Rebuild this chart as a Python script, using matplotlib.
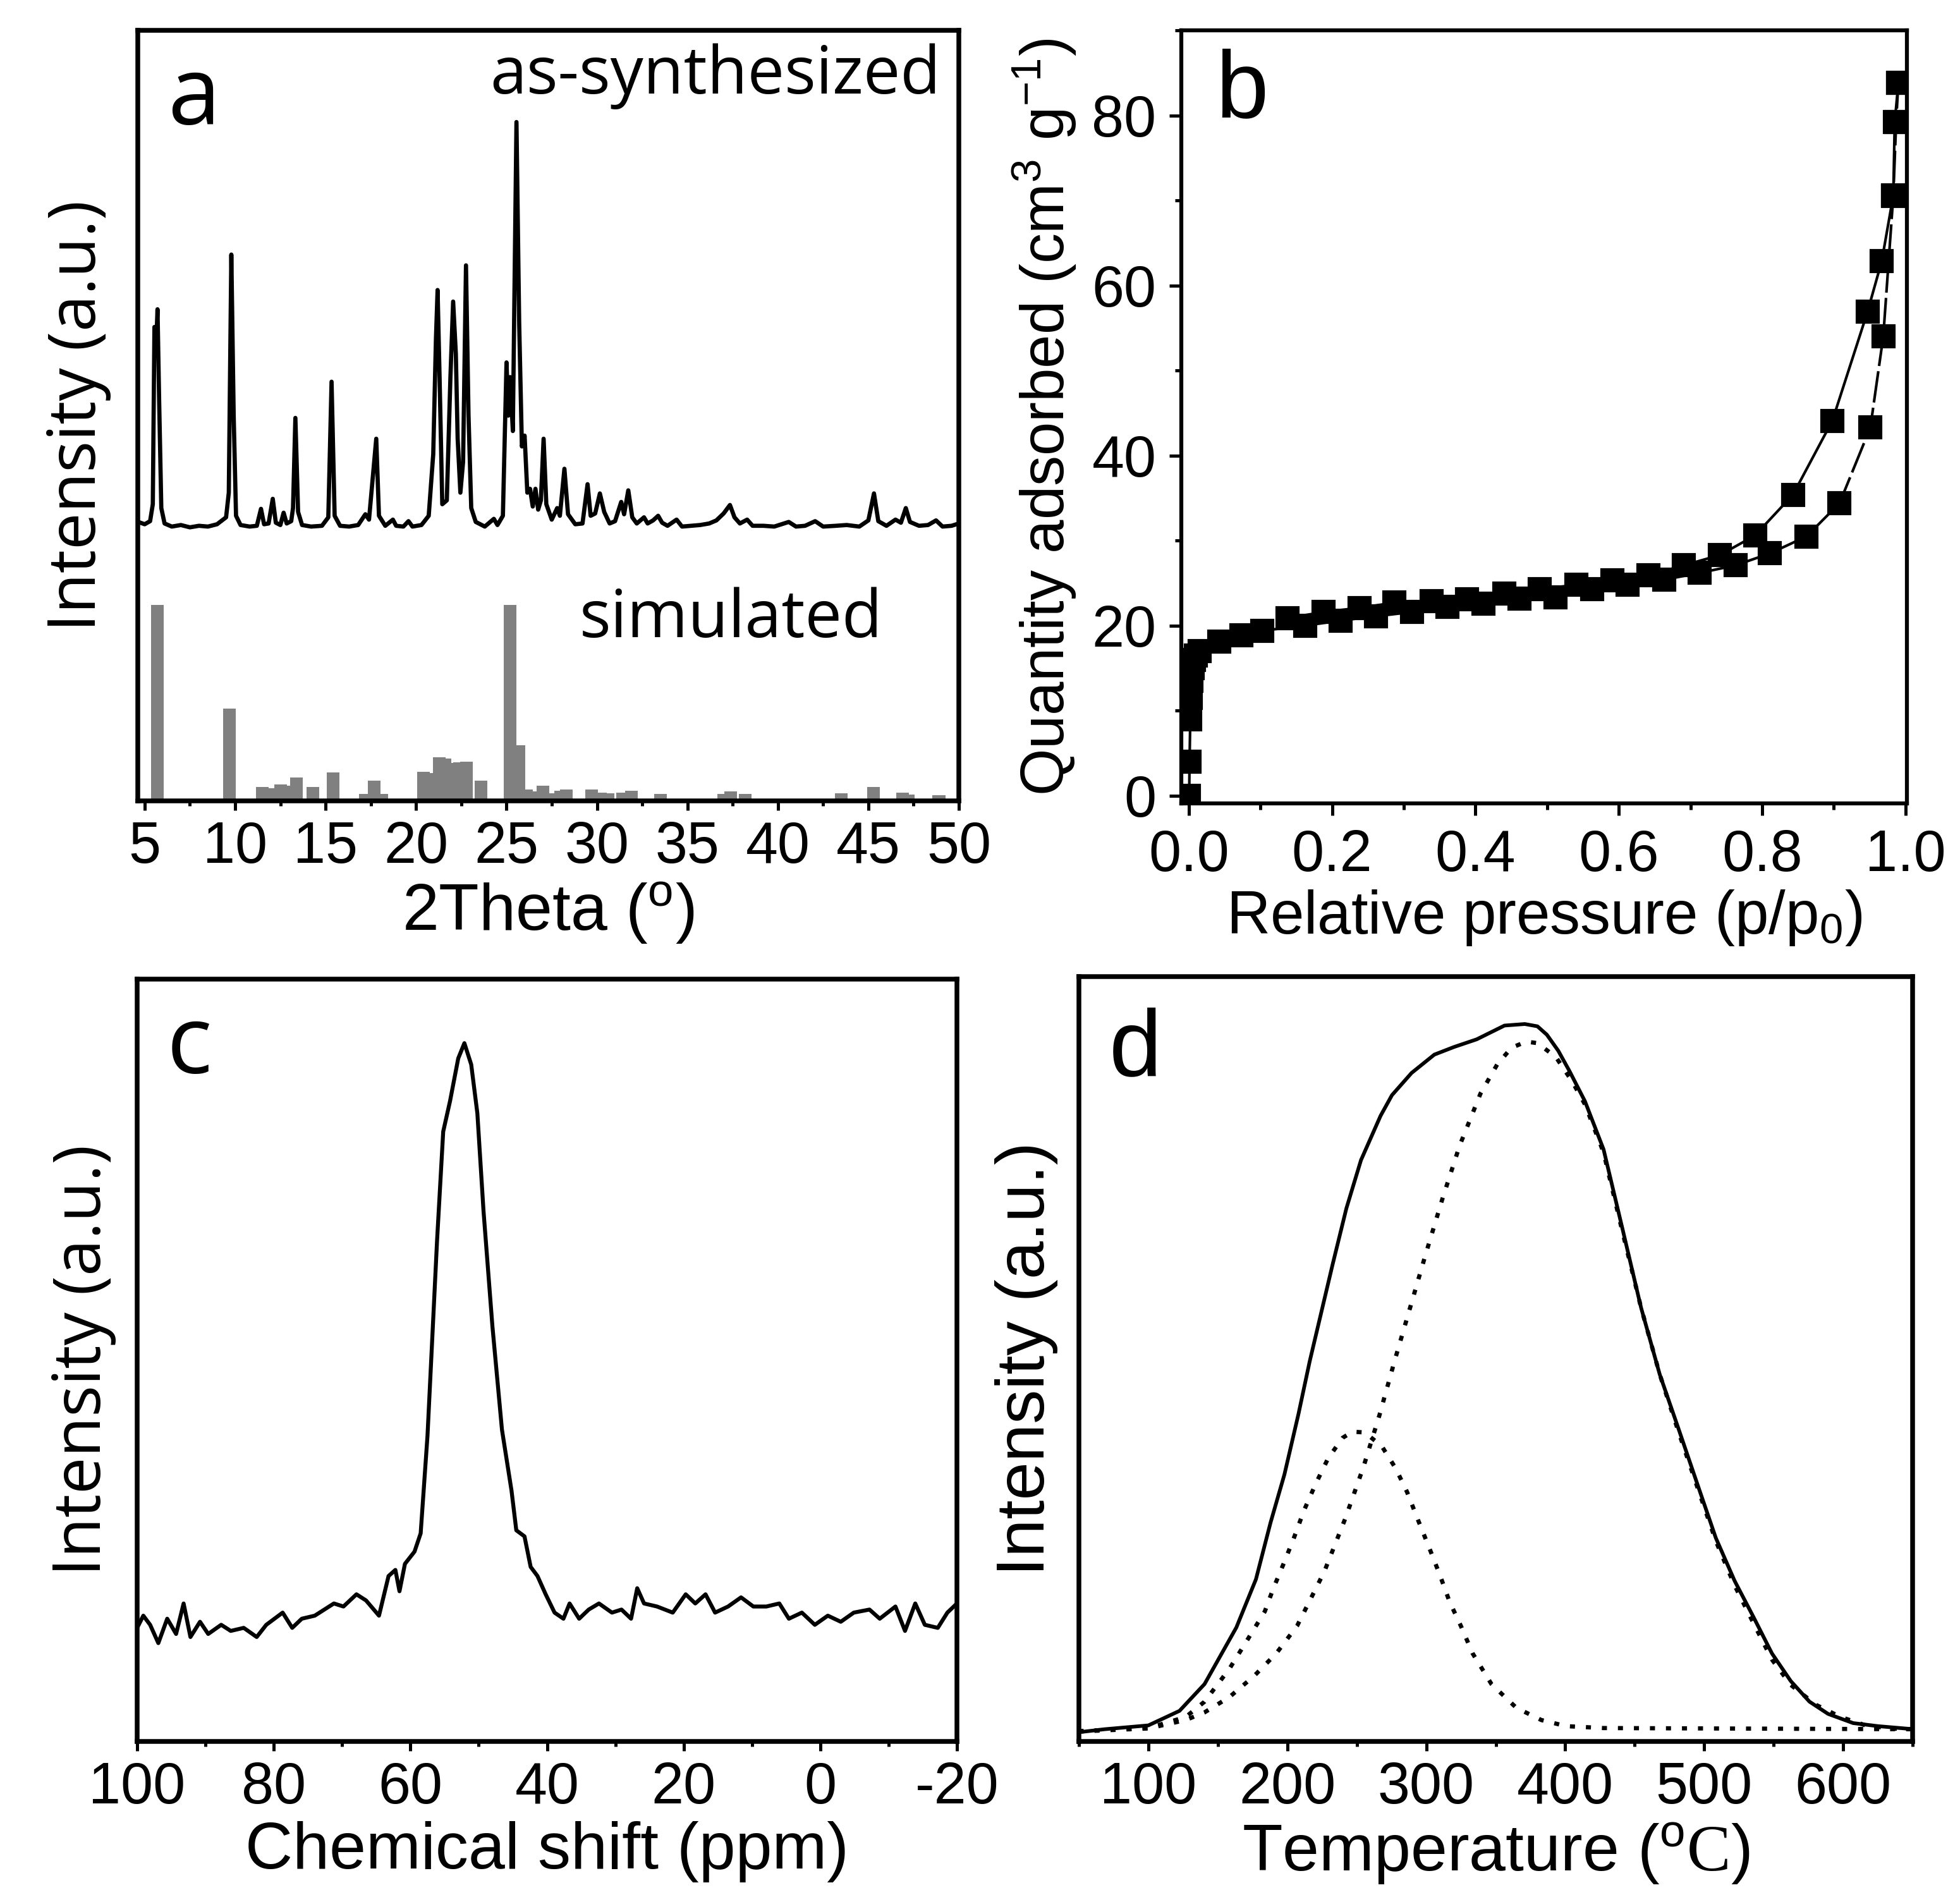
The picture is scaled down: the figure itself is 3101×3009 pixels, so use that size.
import matplotlib
matplotlib.use('Agg')
import matplotlib.pyplot as plt
from matplotlib.ticker import MultipleLocator, FormatStrFormatter

plt.rcParams['font.family'] = 'Liberation Sans'
plt.rcParams['mathtext.fontset'] = 'custom'
plt.rcParams['mathtext.rm'] = 'Liberation Serif'
plt.rcParams['axes.unicode_minus'] = False

# ---- panel a: XRD (as-synthesized trace) ----
xrd_2theta = [4.65, 5.0, 5.3, 5.45, 5.54, 5.62, 5.71, 5.8, 5.92, 6.1, 6.5, 7.0, 7.5, 8.0, 8.5,
              9.0, 9.5, 9.65, 9.79, 9.92, 10.05, 10.3, 10.8, 11.2, 11.43, 11.6, 11.85, 12.08,
              12.25, 12.5, 12.68, 12.85, 13.1, 13.2, 13.33, 13.48, 13.7, 14.2, 14.8, 15.15,
              15.33, 15.5, 15.8, 16.3, 16.8, 17.2, 17.4, 17.8, 17.95, 18.3, 18.72, 18.9, 19.3,
              19.58, 19.8, 20.3, 20.7, 20.95, 21.1, 21.19, 21.3, 21.45, 21.7, 21.9, 22.05,
              22.2, 22.3, 22.45, 22.6, 22.76, 22.9, 23.05, 23.3, 23.8, 24.3, 24.5, 24.8, 25.0,
              25.1, 25.2, 25.35, 25.55, 25.7, 25.85, 26.0, 26.15, 26.3, 26.45, 26.6, 26.75,
              26.9, 27.05, 27.2, 27.5, 27.8, 27.95, 28.2, 28.4, 28.8, 29.2, 29.48, 29.65,
              29.9, 30.16, 30.4, 30.7, 31.0, 31.34, 31.5, 31.73, 31.95, 32.2, 32.6, 32.8,
              33.1, 33.38, 33.6, 33.9, 34.4, 34.7, 35.2, 35.7, 36.2, 36.6, 37.0, 37.35, 37.6,
              37.9, 38.3, 38.6, 39.2, 39.8, 40.6, 41.0, 41.5, 42.06, 42.5, 43.2, 43.8, 44.5,
              45.0, 45.31, 45.55, 46.0, 46.5, 46.8, 47.07, 47.3, 47.8, 48.3, 48.74, 49.1,
              49.6, 50.0]
xrd_int = [36.2, 35.9, 36.3, 38.5, 61.5, 58.0, 63.8, 52.0, 38.0, 36.0, 35.6, 35.8, 35.5, 35.7,
           35.6, 35.9, 36.8, 40.0, 70.9, 50.0, 37.0, 35.8, 35.6, 35.7, 37.9, 35.9, 36.0, 39.2,
           36.1, 35.8, 37.4, 36.0, 36.3, 38.0, 49.7, 37.5, 35.8, 35.6, 35.7, 36.8, 54.4, 37.0,
           35.7, 35.6, 35.8, 37.2, 36.5, 47.0, 37.0, 35.7, 36.5, 35.7, 35.6, 36.3, 35.6, 35.8,
           37.0, 45.0, 60.0, 66.3, 55.0, 38.5, 39.0, 55.0, 64.8, 58.0, 47.0, 40.0, 44.0, 69.5,
           50.0, 38.0, 36.2, 35.6, 36.6, 35.8, 37.0, 56.9, 50.0, 55.0, 48.0, 88.1, 62.0, 46.0,
           47.4, 40.0, 40.5, 38.2, 40.5, 37.8, 39.0, 47.0, 38.5, 36.5, 38.0, 37.0, 43.1, 37.2,
           35.9, 36.0, 41.1, 37.0, 37.3, 39.9, 37.5, 36.0, 36.3, 38.8, 37.2, 40.3, 36.8, 36.0,
           36.8, 36.0, 36.4, 37.0, 36.1, 35.7, 36.5, 35.6, 35.7, 35.8, 36.0, 36.4, 37.3, 38.4,
           36.8, 36.0, 36.5, 35.7, 35.7, 35.6, 36.2, 35.6, 35.7, 36.3, 35.6, 35.7, 35.8, 35.6,
           36.4, 39.9, 36.3, 35.7, 36.5, 36.1, 38.0, 36.2, 35.7, 35.8, 36.4, 35.6, 35.7, 36.0]

# simulated pattern (bars)
sim_2theta = [5.7, 9.7, 11.5, 12.0, 12.5, 12.9, 13.4, 14.3, 15.4, 17.2, 17.7, 18.1, 20.4, 20.8,
              21.3, 21.6, 22.0, 22.4, 22.8, 23.6, 25.2, 25.7, 26.1, 26.5, 27.0, 27.4, 28.0,
              28.3, 29.7, 30.2, 30.6, 31.4, 31.9, 33.5, 37.0, 37.4, 38.2, 43.5, 45.3, 46.9,
              47.2, 48.9]
sim_int = [25.4, 12.0, 1.8, 1.6, 2.1, 2.0, 3.0, 1.8, 3.7, 0.9, 2.6, 0.9, 3.8, 3.6, 5.7, 5.5,
           4.9, 5.0, 5.1, 2.6, 25.4, 7.2, 1.5, 1.2, 2.0, 1.0, 1.3, 1.5, 1.5, 1.1, 1.0, 1.1, 1.3,
           0.9, 0.9, 1.2, 0.9, 1.0, 1.8, 1.1, 0.8, 0.7]

# ---- panel b: N2 isotherm ----
ads_p = [0.0005, 0.001, 0.002, 0.003, 0.004, 0.005, 0.007, 0.010, 0.015, 0.042, 0.073, 0.102,
         0.162, 0.212, 0.261, 0.311, 0.361, 0.411, 0.461, 0.512, 0.563, 0.612, 0.663, 0.713,
         0.763, 0.811, 0.862, 0.908, 0.951, 0.969, 0.983, 0.987, 0.990]
ads_q = [0.0, 4.0, 9.0, 11.5, 13.5, 15.0, 16.0, 16.5, 17.0, 18.1, 18.9, 19.4, 20.0, 20.6, 21.1,
         21.6, 22.2, 22.6, 23.2, 23.3, 24.3, 24.8, 25.4, 26.2, 27.1, 28.5, 30.5, 34.4, 43.3,
         54.0, 70.5, 79.2, 83.8]
des_p = [0.990, 0.985, 0.983, 0.967, 0.947, 0.898, 0.843, 0.790, 0.741, 0.691, 0.641, 0.591,
         0.541, 0.490, 0.440, 0.388, 0.339, 0.287, 0.238, 0.188, 0.138]
des_q = [83.8, 79.2, 70.6, 62.9, 56.9, 44.1, 35.4, 30.6, 28.3, 27.1, 25.9, 25.3, 24.8, 24.3,
         23.8, 23.1, 22.9, 22.7, 22.1, 21.6, 20.9]

# ---- panel c: NMR spectrum ----
nmr_ppm = [100.0, 99.1, 98.1, 96.9, 95.6, 94.3, 93.2, 92.2, 90.8, 89.6, 87.7, 86.3, 84.4, 82.5,
           81.1, 78.7, 77.3, 75.9, 74.0, 72.6, 71.2, 69.8, 67.9, 66.5, 64.6, 63.2, 62.2, 61.6,
           60.8, 59.4, 58.5, 57.5, 56.1, 55.2, 54.2, 53.0, 52.1, 51.1, 50.2, 49.3, 48.0, 46.6,
           45.2, 44.5, 43.3, 42.4, 41.4, 40.2, 38.9, 37.6, 36.7, 35.3, 33.9, 32.4, 30.5, 29.1,
           27.7, 26.8, 25.8, 23.9, 21.6, 19.7, 18.3, 16.8, 15.4, 13.5, 11.6, 9.8, 7.9, 6.0,
           4.6, 2.7, 0.8, -1.1, -3.0, -4.9, -7.2, -8.7, -11.0, -12.4, -13.9, -15.3, -17.2,
           -18.6, -20.0]
nmr_int = [14.9, 16.5, 15.3, 12.9, 16.1, 14.1, 18.1, 13.7, 15.7, 14.1, 15.3, 14.5, 14.9, 13.7,
           15.3, 16.9, 14.9, 16.1, 16.5, 17.3, 18.1, 17.7, 19.3, 18.5, 16.5, 21.7, 22.5, 19.7,
           23.3, 24.9, 27.3, 40.1, 65.7, 80.0, 84.0, 89.6, 91.6, 88.8, 82.4, 69.6, 54.5, 40.9,
           32.9, 27.7, 26.9, 22.9, 21.7, 19.3, 16.9, 16.1, 18.1, 16.1, 17.3, 18.1, 16.9, 17.3,
           16.1, 20.1, 18.1, 17.7, 16.9, 19.3, 18.1, 19.3, 16.9, 17.7, 18.9, 17.7, 17.7, 18.1,
           16.1, 16.9, 15.3, 16.5, 15.7, 16.9, 17.3, 16.1, 17.7, 14.5, 18.1, 15.3, 14.9, 16.9,
           18.1]

# ---- panel d: TPD profile and its two fitted components ----
tpd_T = [49.7, 68.6, 100.0, 122.4, 140.4, 163.3, 177.4, 187.9, 197.9, 208.0, 216.1, 224.3,
         232.5, 242.5, 253.0, 267.1, 275.3, 289.4, 305.8, 320.0, 336.3, 356.3, 370.9, 380.0,
         386.8, 395.0, 403.2, 414.2, 427.6, 441.1, 454.6, 468.0, 481.5, 495.0, 508.4, 521.9,
         535.4, 548.8, 562.3, 575.8, 589.2, 607.2, 625.1, 650.7]
tpd_I = [1.2, 1.6, 2.1, 4.0, 7.5, 14.9, 21.2, 28.6, 34.9, 42.8, 49.7, 56.0, 62.3, 69.7, 76.0,
         81.8, 84.5, 87.4, 89.8, 90.8, 91.8, 93.6, 93.8, 93.5, 92.4, 90.3, 87.6, 83.7, 77.4,
         67.1, 56.7, 48.0, 40.9, 33.7, 26.6, 21.0, 16.3, 11.5, 7.9, 5.2, 3.6, 2.4, 2.0, 1.6]
fit2_T = [49.7, 100.0, 126.9, 140.4, 158.3, 176.3, 192.0, 207.0, 226.6, 241.6, 254.8, 266.2,
          277.1, 288.5, 299.4, 311.7, 324.0, 339.0, 351.0, 361.3, 372.0, 380.0, 393.2, 405.0,
          414.2, 427.6, 441.1, 454.6, 468.0, 481.5, 495.0, 508.4, 521.9, 535.4, 548.8, 562.3,
          580.3, 598.2, 616.2, 634.1, 650.7]
fit2_I = [1.3, 1.7, 2.8, 3.8, 5.8, 8.6, 11.5, 15.1, 22.2, 29.1, 35.9, 42.6, 49.7, 56.8, 63.6,
          71.0, 77.9, 84.7, 88.5, 90.7, 91.5, 91.3, 89.5, 86.3, 83.3, 77.0, 66.7, 56.7, 48.0,
          40.5, 33.3, 26.2, 20.4, 15.5, 10.7, 7.4, 4.8, 3.2, 2.1, 1.7, 1.6]
fit1_T = [49.7, 100.0, 126.9, 140.4, 158.3, 172.0, 183.8, 189.7, 197.0, 204.3, 212.0, 220.2,
          229.3, 239.8, 247.0, 255.7, 268.0, 278.0, 286.2, 294.4, 302.6, 309.9, 316.7, 324.9,
          333.4, 346.9, 364.8, 382.8, 400.7, 427.6, 650.7]
fit1_I = [1.35, 1.75, 3.2, 5.2, 9.5, 13.5, 17.0, 19.9, 23.1, 26.4, 30.2, 33.6, 37.0, 39.7,
          40.5, 40.4, 38.6, 35.7, 32.6, 28.8, 25.1, 21.7, 18.3, 15.1, 11.5, 7.5, 4.4, 2.8,
          2.0, 1.75, 1.6]

W, H = 3101, 3009
fig = plt.figure(figsize=(W / 300, H / 300), dpi=300)


def box(l, t, r, b):
    return [l / W, (H - b) / H, (r - l) / W, (b - t) / H]


def style(ax, lw=1.8, maj=3.5, mino=2.0):
    for s in ax.spines.values():
        s.set_linewidth(lw)
    ax.tick_params(which='both', direction='out', width=1.2, labelsize=22, pad=4,
                   top=False, right=False)
    ax.tick_params(which='major', length=maj)
    ax.tick_params(which='minor', length=mino)


ax_a = fig.add_axes(box(218, 48, 1517, 1267))
ax_b = fig.add_axes(box(1869, 48, 3017, 1271))
ax_c = fig.add_axes(box(217, 1549, 1514, 2755))
ax_d = fig.add_axes(box(1707, 1545, 3026, 2755))

# a
ax_a.bar(sim_2theta, sim_int, width=0.7, color='#808080', zorder=1)
ax_a.plot(xrd_2theta, xrd_int, color='black', lw=1.6, zorder=2)
ax_a.set_xlim(4.62, 50)
ax_a.set_ylim(0, 100)
ax_a.set_yticks([])
ax_a.xaxis.set_major_locator(MultipleLocator(5))
ax_a.xaxis.set_minor_locator(MultipleLocator(2.5))
style(ax_a)
ax_a.set_xlabel(r'2Theta ($\mathregular{^o}$)', fontsize=25, labelpad=2)
ax_a.set_ylabel('Intensity (a.u.)', fontsize=25, family='Open Sans', labelpad=10)
ax_a.text(0.068, 0.91, 'a', transform=ax_a.transAxes, fontsize=36, family='Open Sans',
          ha='center', va='center')
ax_a.text(0.978, 0.94, 'as-synthesized', transform=ax_a.transAxes, fontsize=25,
          family='Open Sans', ha='right', va='center')
ax_a.text(0.907, 0.235, 'simulated', transform=ax_a.transAxes, fontsize=25,
          family='Open Sans', ha='right', va='center')

# b
ax_b.plot(ads_p, ads_q, color='black', lw=1.0, ls=(0, (12, 2)), marker='s', ms=8)
ax_b.plot(des_p, des_q, color='black', lw=1.0, marker='s', ms=8)
ax_b.set_xlim(-0.0105, 1.002)
ax_b.set_ylim(-0.9, 90)
ax_b.xaxis.set_major_locator(MultipleLocator(0.2))
ax_b.xaxis.set_minor_locator(MultipleLocator(0.1))
ax_b.xaxis.set_major_formatter(FormatStrFormatter('%.1f'))
ax_b.yaxis.set_major_locator(MultipleLocator(20))
ax_b.yaxis.set_minor_locator(MultipleLocator(10))
style(ax_b, lw=1.5, maj=4.5, mino=2.5)
ax_b.tick_params(axis='both', pad=5)
ax_b.set_xlabel(r'Relative pressure (p/p$\mathregular{_0}$)', fontsize=23, labelpad=2)
ax_b.set_ylabel(r'Quantity adsorbed (cm$\mathregular{^3}$ g$\mathregular{^{-1}}$)',
                fontsize=23, labelpad=5)
ax_b.text(0.084, 0.92, 'b', transform=ax_b.transAxes, fontsize=36, ha='center', va='center')

# c
ax_c.plot(nmr_ppm, nmr_int, color='black', lw=1.5)
ax_c.set_xlim(100, -20)
ax_c.set_ylim(0, 100)
ax_c.set_yticks([])
ax_c.xaxis.set_major_locator(MultipleLocator(20))
ax_c.xaxis.set_minor_locator(MultipleLocator(10))
style(ax_c)
ax_c.set_xlabel('Chemical shift (ppm)', fontsize=25, labelpad=2)
ax_c.set_ylabel('Intensity (a.u.)', fontsize=25, family='Open Sans', labelpad=8)
ax_c.text(0.064, 0.909, 'c', transform=ax_c.transAxes, fontsize=36, family='Open Sans',
          ha='center', va='center')

# d
ax_d.plot(tpd_T, tpd_I, color='black', lw=1.4)
ax_d.plot(fit1_T, fit1_I, color='black', lw=1.6, ls=(0, (1.2, 2.6)))
ax_d.plot(fit2_T, fit2_I, color='black', lw=1.6, ls=(0, (1.2, 2.6)))
ax_d.set_xlim(50, 650)
ax_d.set_ylim(0, 100)
ax_d.set_yticks([])
ax_d.xaxis.set_major_locator(MultipleLocator(100))
ax_d.xaxis.set_minor_locator(MultipleLocator(50))
style(ax_d)
ax_d.set_xlabel(r'Temperature ($\mathregular{^o}$$\mathrm{C}$)', fontsize=25, labelpad=2)
ax_d.set_ylabel('Intensity (a.u.)', fontsize=26, labelpad=8)
ax_d.text(0.068, 0.902, 'd', transform=ax_d.transAxes, fontsize=36, ha='center', va='center')

fig.savefig('out.png', dpi=300)
